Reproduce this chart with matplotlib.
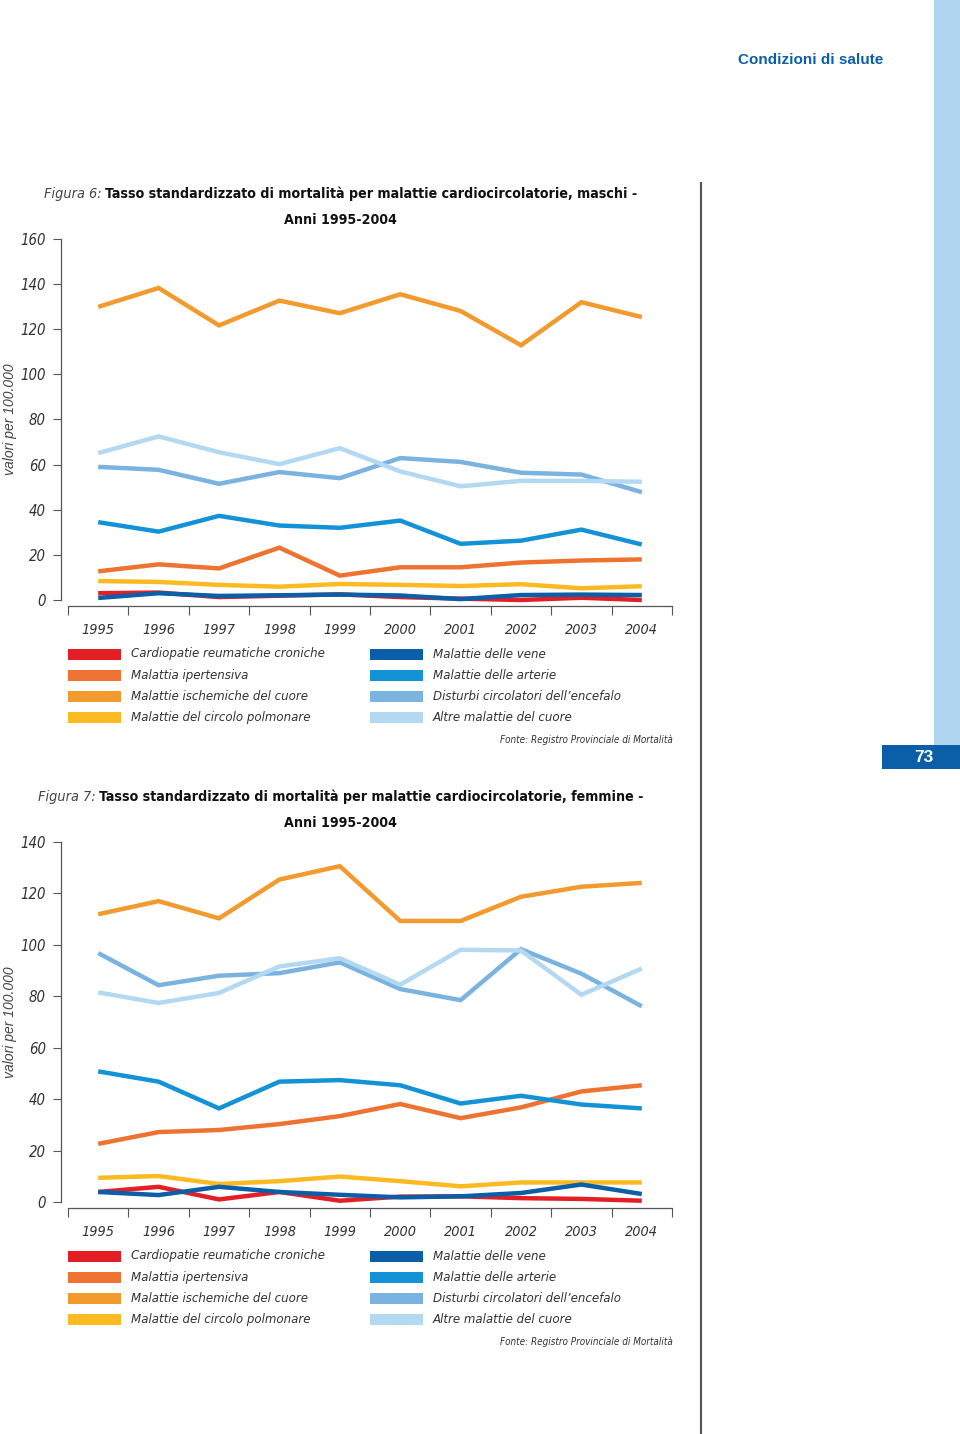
import matplotlib
matplotlib.use("Agg")
import numpy as np
import matplotlib.pyplot as plt
from matplotlib import font_manager as fm
from matplotlib.patches import Rectangle
from matplotlib.lines import Line2D

W, H = 960, 1434

years = ["1995", "1996", "1997", "1998", "1999", "2000", "2001", "2002", "2003", "2004"]

series_names = [
    "Cardiopatie reumatiche croniche",
    "Malattia ipertensiva",
    "Malattie ischemiche del cuore",
    "Malattie del circolo polmonare",
    "Malattie delle vene",
    "Malattie delle arterie",
    "Disturbi circolatori dell\u2019encefalo",
    "Altre malattie del cuore",
]
series_colors = ["#E31E24", "#EE7330", "#F29A2E", "#FBBA22",
                 "#0B5EA8", "#1393D6", "#7AB3E0", "#B3D8F2"]

# Figura 6 - maschi
m_reumatiche = [3.0, 3.3, 1.3, 1.9, 2.5, 1.3, 0.6, 0.0, 1.0, 0.0]
m_ipertensiva = [12.7, 15.8, 14.0, 23.2, 10.8, 14.5, 14.5, 16.6, 17.5, 18.0]
m_ischemiche = [129.9, 138.3, 121.7, 132.7, 127.1, 135.5, 128.1, 112.9, 132.0, 125.4]
m_polmonare = [8.4, 8.0, 6.7, 5.9, 7.1, 6.7, 6.2, 7.0, 5.2, 6.1]
m_vene = [0.9, 3.0, 1.8, 2.1, 2.4, 2.0, 0.4, 2.2, 2.4, 2.2]
m_arterie = [34.5, 30.3, 37.3, 33.0, 32.0, 35.2, 24.9, 26.3, 31.2, 24.6]
m_encefalo = [59.0, 57.7, 51.5, 56.7, 54.0, 62.9, 61.2, 56.4, 55.6, 47.8]
m_altre = [65.1, 72.5, 65.5, 60.2, 67.3, 57.0, 50.4, 52.8, 52.8, 52.4]

# Figura 7 - femmine
f_reumatiche = [3.9, 5.9, 1.0, 3.9, 0.5, 2.1, 2.2, 1.5, 1.2, 0.5]
f_ipertensiva = [22.6, 27.2, 28.0, 30.3, 33.4, 38.1, 32.6, 36.8, 43.0, 45.4]
f_ischemiche = [111.9, 117.0, 110.3, 125.4, 130.6, 109.3, 109.3, 118.7, 122.6, 124.1]
f_polmonare = [9.4, 10.1, 7.0, 8.1, 9.9, 8.1, 6.1, 7.6, 7.6, 7.6]
f_vene = [3.9, 2.7, 5.9, 3.9, 2.8, 1.8, 2.2, 3.5, 6.8, 3.1]
f_arterie = [50.8, 46.8, 36.4, 46.8, 47.4, 45.4, 38.3, 41.3, 37.9, 36.4]
f_encefalo = [96.8, 84.3, 88.0, 89.0, 93.2, 82.8, 78.5, 98.3, 88.8, 76.1]
f_altre = [81.5, 77.4, 81.3, 91.6, 94.8, 84.5, 98.1, 97.8, 80.6, 90.8]


def font_path(**kw):
    try:
        return fm.findfont(fm.FontProperties(**kw), fallback_to_default=False)
    except ValueError:
        return ""


# narrow font: the original uses a condensed grotesque
if font_path(family="Liberation Sans Narrow"):
    NARROW = dict(family=["Liberation Sans Narrow", "DejaVu Sans"])
    SCALE = 1.0
elif "Condensed" in font_path(family="DejaVu Sans", stretch="condensed"):
    NARROW = dict(family=["DejaVu Sans"], stretch="condensed")
    SCALE = 0.86
else:
    NARROW = dict(family=["Liberation Sans", "DejaVu Sans"])
    SCALE = 0.82
REGULAR = ["Liberation Sans", "DejaVu Sans"]
TXT = "#333333"


def fx(px):
    return px / W


def fy(py):
    return 1 - py / H


def draw_chart(fig, data, ymax, top_px, zero_px, fig_label, title, title_x, legend_y):
    bottom_px = zero_px + 6
    per_unit = (zero_px - top_px) / ymax
    ymin = -(bottom_px - zero_px) / per_unit
    ax = fig.add_axes([fx(61), fy(bottom_px), (672 - 61) / W, (bottom_px - top_px) / H])
    ax.set_xlim(-0.616, 9.5)
    ax.set_ylim(ymin, ymax)

    x = np.arange(len(years))
    for values, color in zip(data, series_colors):
        ax.plot(x, values, color=color, lw=3.2, solid_joinstyle="miter", solid_capstyle="butt")

    for s in ["top", "right"]:
        ax.spines[s].set_visible(False)
    ax.spines["left"].set_bounds(0, ymax)
    ax.spines["bottom"].set_bounds(-0.5, 9.5)
    for s in ["left", "bottom"]:
        ax.spines[s].set_color("#555555")
        ax.spines[s].set_linewidth(0.9)

    ax.set_yticks(range(0, ymax + 1, 20))
    ax.tick_params(axis="y", direction="out", length=5.8, width=0.8, color="#555555",
                   labelcolor=TXT, pad=5)
    ax.set_xticks(x)
    ax.set_xticklabels(years)
    ax.set_xticks(np.arange(-0.5, 10, 1), minor=True)
    ax.tick_params(axis="x", which="major", length=0, labelcolor=TXT, pad=12)
    ax.tick_params(axis="x", which="minor", direction="out", length=6.5, width=0.8, color="#555555")
    for lab in ax.get_yticklabels():
        lab.set_fontproperties(fm.FontProperties(style="italic", size=12.5 * SCALE, **NARROW))
    for lab in ax.get_xticklabels():
        lab.set_fontproperties(fm.FontProperties(style="italic", size=12 * SCALE, **NARROW))

    # y label
    fig.text(fx(10), fy((top_px + zero_px) / 2), "valori per 100.000", rotation=90,
             ha="center", va="center", fontsize=10, style="italic", color="#444444",
             family=REGULAR)

    # title
    renderer = fig.canvas.get_renderer()
    t1 = fig.text(fx(title_x), fy(top_px - 45), fig_label, fontsize=12 * SCALE, style="italic",
                  color="#444444", va="center", ha="left", **NARROW)
    bb = t1.get_window_extent(renderer)
    fig.text(fx(bb.x1 + 3), fy(top_px - 45), title, fontsize=11.8 * SCALE, weight="bold",
             color="#111111", va="center", ha="left", **NARROW)
    fig.text(fx(340), fy(top_px - 19), "Anni 1995-2004", fontsize=11.8 * SCALE, weight="bold",
             color="#111111", va="center", ha="center", **NARROW)

    # legend
    row_step = 21.3
    for i, (name, color) in enumerate(zip(series_names, series_colors)):
        col, row = divmod(i, 4)
        sx = 68 if col == 0 else 370
        tx = 131 if col == 0 else 433
        cy = legend_y + row * row_step
        fig.add_artist(Rectangle((fx(sx), fy(cy + 5.5)), 53 / W, 11 / H,
                                 transform=fig.transFigure, color=color, lw=0))
        fig.text(fx(tx), fy(cy), name, fontsize=11 * SCALE, style="italic", color=TXT,
                 va="center", ha="left", **NARROW)

    fig.text(fx(673), fy(legend_y + 86), "Fonte: Registro Provinciale di Mortalit\u00e0",
             fontsize=8.3 * SCALE, style="italic", color=TXT, va="center", ha="right", **NARROW)
    return ax


fig = plt.figure(figsize=(W / 100, H / 100), dpi=100)
fig.patch.set_facecolor("white")

# page decorations
fig.add_artist(Rectangle((fx(934), fy(745)), 26 / W, 745 / H, transform=fig.transFigure,
                         color="#AFD5F1", lw=0))
fig.add_artist(Rectangle((fx(882), fy(769)), 78 / W, 24 / H, transform=fig.transFigure,
                         color="#0B5EA8", lw=0))
fig.text(fx(924), fy(757), "73", fontsize=12.5, weight="bold", color="white",
         family=REGULAR, ha="center", va="center")
fig.text(fx(811), fy(60), "Condizioni di salute", fontsize=11, weight="bold",
         color="#0B5EA8", family=REGULAR, ha="center", va="center")
fig.add_artist(Line2D([fx(701), fx(701)], [fy(183), fy(H)], transform=fig.transFigure,
                      color="#555555", lw=1.5))

draw_chart(fig,
           [m_reumatiche, m_ipertensiva, m_ischemiche, m_polmonare,
            m_vene, m_arterie, m_encefalo, m_altre],
           160, 239, 600, "Figura 6:",
           "Tasso standardizzato di mortalit\u00e0 per malattie cardiocircolatorie, maschi -",
           44, 654)

draw_chart(fig,
           [f_reumatiche, f_ipertensiva, f_ischemiche, f_polmonare,
            f_vene, f_arterie, f_encefalo, f_altre],
           140, 842, 1202, "Figura 7:",
           "Tasso standardizzato di mortalit\u00e0 per malattie cardiocircolatorie, femmine -",
           38, 1256)

fig.savefig("out.png", dpi=100)
